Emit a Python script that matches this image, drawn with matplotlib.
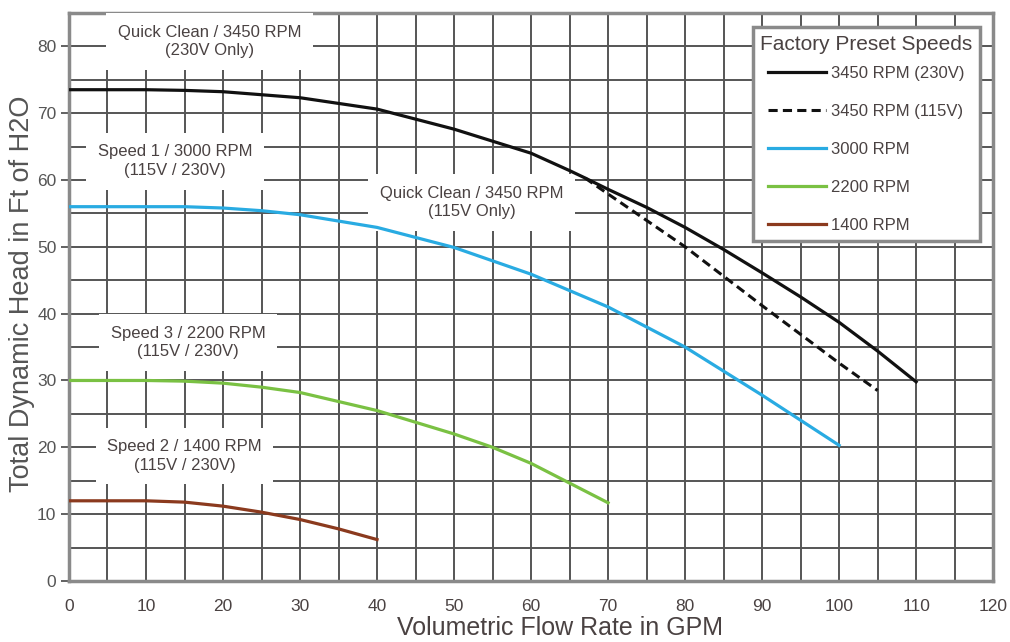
import numpy as np
import matplotlib.pyplot as plt

# pump curves (GPM, ft of head)
flow_3450 = [0, 10, 15, 20, 30, 40, 50, 60, 65, 67, 70, 75, 80, 85, 90, 95, 100, 105, 110]
head_3450 = [73.5, 73.5, 73.4, 73.2, 72.3, 70.6, 67.6, 64.0, 61.4, 60.3, 58.6, 55.9, 52.9, 49.6, 46.1, 42.5, 38.7, 34.4, 29.8]

flow_3450_115 = [67, 70, 80, 90, 100, 105]
head_3450_115 = [60.3, 57.9, 50.0, 41.2, 32.6, 28.5]

flow_3000 = [0, 10, 15, 20, 25, 30, 40, 50, 60, 70, 80, 90, 100]
head_3000 = [56.0, 56.0, 56.0, 55.8, 55.4, 54.8, 52.9, 49.9, 45.9, 41.0, 35.0, 27.8, 20.3]

flow_2200 = [0, 10, 15, 20, 25, 30, 40, 50, 55, 60, 70]
head_2200 = [30.0, 30.0, 29.9, 29.6, 29.0, 28.2, 25.5, 22.0, 20.0, 17.6, 11.7]

flow_1400 = [0, 10, 15, 20, 25, 30, 35, 40]
head_1400 = [12.0, 12.0, 11.8, 11.2, 10.3, 9.2, 7.8, 6.2]

labels = ["3450 RPM (230V)", "3450 RPM (115V)", "3000 RPM", "2200 RPM", "1400 RPM"]

notes = ["Quick Clean / 3450 RPM\n(230V Only)",
         "Speed 1 / 3000 RPM\n(115V / 230V)",
         "Quick Clean / 3450 RPM\n(115V Only)",
         "Speed 3 / 2200 RPM\n(115V / 230V)",
         "Speed 2 / 1400 RPM\n(115V / 230V)"]
note_x = [18.3, 13.8, 52.3, 15.5, 15.0]
note_y = [80.7, 62.8, 56.6, 35.7, 18.7]

sans = ['Liberation Sans', 'DejaVu Sans']
txt_col = '#4a4242'

fig = plt.figure(figsize=(10.1, 6.42), dpi=100)
ax = fig.add_axes([0.0683, 0.095, 0.915, 0.885])

ax.plot(flow_3450, head_3450, color='#111111', lw=2.3, label=labels[0], zorder=4)
ax.plot(flow_3450_115, head_3450_115, color='#111111', lw=2.2, ls=(0, (3, 1.7)), label=labels[1], zorder=4)
ax.plot(flow_3000, head_3000, color='#29abe2', lw=2.3, label=labels[2], zorder=4)
ax.plot(flow_2200, head_2200, color='#7ac143', lw=2.3, label=labels[3], zorder=4)
ax.plot(flow_1400, head_1400, color='#8b3a1e', lw=2.3, label=labels[4], zorder=4)

for t, x, y in zip(notes, note_x, note_y):
    ax.text(x, y, t, ha='center', va='center', fontsize=12, color=txt_col,
            family=sans, linespacing=1.3, zorder=3,
            bbox=dict(boxstyle='square,pad=0.7', fc='white', ec='none'))

ax.set_xlim(0, 120)
ax.set_ylim(0, 85)
ax.set_xticks(np.arange(0, 121, 10))
ax.set_yticks(np.arange(0, 81, 10))
ax.set_xticks(np.arange(0, 121, 5), minor=True)
ax.set_yticks(np.arange(0, 86, 5), minor=True)
ax.grid(which='both', color='#555555', lw=1.4, zorder=1)
ax.set_axisbelow(True)
ax.tick_params(axis='x', which='both', length=0, pad=13, labelsize=12.5, labelcolor=txt_col)
ax.tick_params(axis='y', which='major', length=6, width=1.3, color='#555555', pad=3,
               labelsize=12.5, labelcolor='#555555')
ax.tick_params(axis='y', which='minor', length=0)
for lab in ax.get_xticklabels() + ax.get_yticklabels():
    lab.set_family(sans)
for s in ax.spines.values():
    s.set_color('#8a8a8a')
    s.set_linewidth(2.5)

ax.set_xlabel("Volumetric Flow Rate in GPM", fontsize=18, color=txt_col, family=sans)
ax.xaxis.label.set_va('center')
ax.xaxis.set_label_coords(0.531, -0.083)
ax.set_ylabel("Total Dynamic Head in Ft of H2O", fontsize=19.5, color='#555555', family=sans)
ax.yaxis.label.set_va('center')
ax.yaxis.set_label_coords(-0.051, 0.505)

leg = ax.legend(loc='upper right', bbox_to_anchor=(0.986, 0.975), title="Factory Preset Speeds",
                prop={'family': sans, 'size': 12}, labelcolor=txt_col,
                fancybox=False, framealpha=1, edgecolor='#8a8a8a', handlelength=3.5,
                handletextpad=0.3, labelspacing=1.38, borderpad=0.45, borderaxespad=0)
leg.get_title().set_family(sans)
leg.get_title().set_fontsize(15)
leg.get_title().set_color(txt_col)
leg.get_frame().set_linewidth(2.5)
leg.set_zorder(5)
leg._legend_box.sep = 9.2

fig.savefig("out.png", dpi=100)
